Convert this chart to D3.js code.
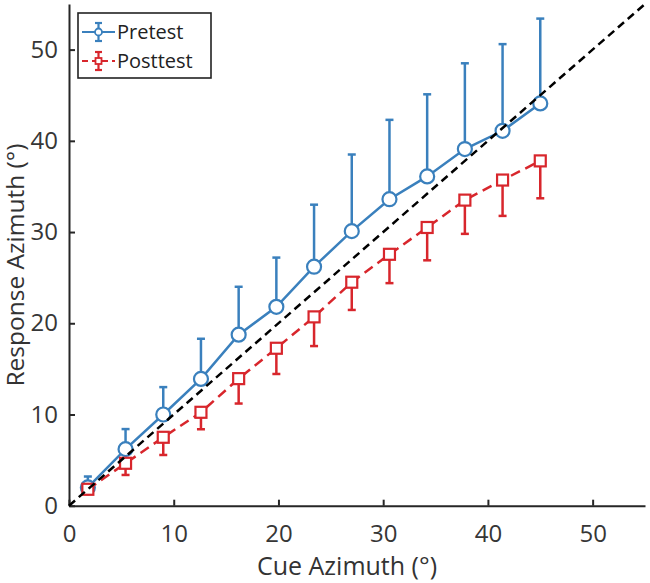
<!DOCTYPE html>
<html>
<head>
<meta charset="utf-8">
<script src="https://cdn.jsdelivr.net/npm/d3@7"></script>
<style>
  html, body { margin: 0; padding: 0; background: #fff; }
  svg text { font-family: "Open Sans", Lato, sans-serif; fill: #333; font-weight: 500; }
</style>
</head>
<body>
<div id="chart"></div>
<script>
// cue azimuth (deg) for each condition
const cueAzimuth = [1.8, 5.4, 9, 12.6, 16.2, 19.8, 23.4, 27, 30.6, 34.2, 37.8, 41.4, 45];
// pretest mean response and top of its error bar
const pretestMean = [2.0, 6.2, 10.0, 13.9, 18.75, 21.8, 26.2, 30.1, 33.6, 36.1, 39.1, 41.1, 44.1];
const pretestUpper = [3.2, 8.4, 13.0, 18.3, 24.0, 27.2, 33.0, 38.5, 42.3, 45.1, 48.5, 50.6, 53.4];
// posttest mean response and bottom of its error bar
const posttestMean = [1.8, 4.65, 7.5, 10.24, 13.93, 17.26, 20.7, 24.5, 27.56, 30.5, 33.5, 35.7, 37.8];
const posttestLower = [1.3, 3.37, 5.56, 8.38, 11.2, 14.44, 17.5, 21.46, 24.4, 26.9, 29.8, 31.77, 33.7];
const tickValues = [0, 10, 20, 30, 40, 50];
const seriesNames = ['Pretest', 'Posttest'];

const W = 650, H = 583;
const blue = '#3a80bd', red = '#d8262c';

const svg = d3.select('#chart').append('svg')
  .attr('width', W).attr('height', H);

const x = d3.scaleLinear().domain([0, 55]).range([69, 645]);
const y = d3.scaleLinear().domain([0, 55]).range([505.7, 4]);

// axes (left + bottom only, ticks pointing in)
const axisColor = '#262626';
const gx = svg.append('g').attr('transform', `translate(0,${y(0)})`)
  .call(d3.axisBottom(x).tickValues(tickValues).tickSizeInner(-6).tickSizeOuter(0).tickPadding(19));
const gy = svg.append('g').attr('transform', `translate(${x(0)},0)`)
  .call(d3.axisLeft(y).tickValues(tickValues).tickSizeInner(-6).tickSizeOuter(0).tickPadding(11));
[gx, gy].forEach(g => {
  g.select('.domain').attr('stroke', axisColor).attr('stroke-width', 2);
  g.selectAll('.tick line').attr('stroke', axisColor).attr('stroke-width', 2);
  g.selectAll('.tick text').attr('font-size', 24).style('fill', '#363636')
    .attr('font-family', '"Open Sans", Lato, sans-serif').attr('font-weight', 500);
});
gx.selectAll('.tick text').attr('dy', '0.71em');

svg.append('text')
  .attr('x', 347).attr('y', 575)
  .attr('text-anchor', 'middle')
  .attr('font-size', 25)
  .text('Cue Azimuth (°)');

svg.append('text')
  .attr('transform', 'translate(24,265) rotate(-90)')
  .attr('text-anchor', 'middle')
  .attr('font-size', 24.5)
  .text('Response Azimuth (°)');

const idx = d3.range(cueAzimuth.length);

// pretest: line, upper error bars, circles
svg.append('path')
  .datum(idx)
  .attr('fill', 'none').attr('stroke', blue).attr('stroke-width', 2.5)
  .attr('d', d3.line().x(i => x(cueAzimuth[i])).y(i => y(pretestMean[i])));

const preErr = svg.append('g').attr('stroke', blue).attr('stroke-width', 2.5);
preErr.selectAll('line.v').data(idx).join('line').attr('class', 'v')
  .attr('x1', i => x(cueAzimuth[i])).attr('x2', i => x(cueAzimuth[i]))
  .attr('y1', i => y(pretestMean[i])).attr('y2', i => y(pretestUpper[i]));
preErr.selectAll('line.c').data(idx).join('line').attr('class', 'c')
  .attr('x1', i => x(cueAzimuth[i]) - 4).attr('x2', i => x(cueAzimuth[i]) + 4)
  .attr('y1', i => y(pretestUpper[i])).attr('y2', i => y(pretestUpper[i]));

svg.append('g').selectAll('circle').data(idx).join('circle')
  .attr('cx', i => x(cueAzimuth[i])).attr('cy', i => y(pretestMean[i]))
  .attr('r', 7).attr('fill', '#fff').attr('stroke', blue).attr('stroke-width', 2.2);

// posttest: dashed line, lower error bars, squares
svg.append('path')
  .datum(idx)
  .attr('fill', 'none').attr('stroke', red).attr('stroke-width', 2.5)
  .attr('stroke-dasharray', '10,6')
  .attr('d', d3.line().x(i => x(cueAzimuth[i])).y(i => y(posttestMean[i])));

const postErr = svg.append('g').attr('stroke', red).attr('stroke-width', 2.5);
postErr.selectAll('line.v').data(idx).join('line').attr('class', 'v')
  .attr('x1', i => x(cueAzimuth[i])).attr('x2', i => x(cueAzimuth[i]))
  .attr('y1', i => y(posttestMean[i])).attr('y2', i => y(posttestLower[i]));
postErr.selectAll('line.c').data(idx).join('line').attr('class', 'c')
  .attr('x1', i => x(cueAzimuth[i]) - 4).attr('x2', i => x(cueAzimuth[i]) + 4)
  .attr('y1', i => y(posttestLower[i])).attr('y2', i => y(posttestLower[i]));

svg.append('g').selectAll('rect').data(idx).join('rect')
  .attr('x', i => x(cueAzimuth[i]) - 5.5).attr('y', i => y(posttestMean[i]) - 5.5)
  .attr('width', 11).attr('height', 11)
  .attr('fill', '#fff').attr('stroke', red).attr('stroke-width', 2.2);

// identity line on top
svg.append('line')
  .attr('x1', x(0)).attr('y1', y(0)).attr('x2', x(55)).attr('y2', y(55))
  .attr('stroke', '#000').attr('stroke-width', 2.5).attr('stroke-dasharray', '8,5');

// legend
const lg = svg.append('g');
lg.append('rect').attr('x', 78).attr('y', 13).attr('width', 133).attr('height', 65)
  .attr('fill', '#fff').attr('stroke', '#222').attr('stroke-width', 1.6);
const legendColors = [blue, red];
seriesNames.forEach((name, k) => {
  const cy = 32 + k * 29;
  const row = lg.append('g');
  row.append('line').attr('x1', 82).attr('x2', 115).attr('y1', cy).attr('y2', cy)
    .attr('stroke', legendColors[k]).attr('stroke-width', 2.2)
    .attr('stroke-dasharray', k === 1 ? '6,4' : null);
  [-1, 1].forEach(dir => {
    row.append('line').attr('x1', 98.5).attr('x2', 98.5).attr('y1', cy).attr('y2', cy + dir * 9)
      .attr('stroke', legendColors[k]).attr('stroke-width', 2.2);
    row.append('line').attr('x1', 95).attr('x2', 102).attr('y1', cy + dir * 9).attr('y2', cy + dir * 9)
      .attr('stroke', legendColors[k]).attr('stroke-width', 2.2);
  });
  if (k === 0) {
    row.append('circle').attr('cx', 98.5).attr('cy', cy).attr('r', 3.5)
      .attr('fill', '#fff').attr('stroke', blue).attr('stroke-width', 1.8);
  } else {
    row.append('rect').attr('x', 95.5).attr('y', cy - 3).attr('width', 6).attr('height', 6)
      .attr('fill', '#fff').attr('stroke', red).attr('stroke-width', 1.8);
  }
  row.append('text').attr('x', 117).attr('y', cy + 7)
    .attr('font-size', 20).attr('font-weight', 600).style('fill', '#222').text(name);
});
</script>
</body>
</html>
